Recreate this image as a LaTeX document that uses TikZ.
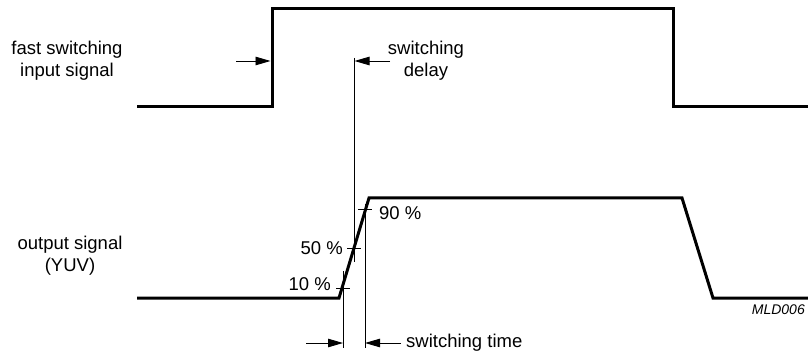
\documentclass[tikz,border=0pt]{standalone}
\usepackage{fontspec}
\setmainfont{Liberation Sans}
\usetikzlibrary{arrows.meta}
\tikzset{
  sig/.style={line width=3pt, line join=miter},
  thin/.style={line width=0.9pt},
  dimarrow/.style={line width=0.9pt, -{Triangle[length=15pt,width=8.5pt]}},
  lbl/.style={inner sep=0pt, font=\fontsize{18.5}{22}\selectfont, align=center},
  tag/.style={inner sep=0pt, font=\fontsize{14}{16}\selectfont\itshape}
}
\begin{document}
\begin{tikzpicture}[x=1pt,y=-1pt]
\useasboundingbox (0,0) rectangle (808,358);
% input signal
\coordinate (i0) at (137,107);
\coordinate (i1) at (272,107);
\coordinate (i2) at (272,9);
\coordinate (i3) at (673,9);
\coordinate (i4) at (673,107);
\coordinate (i5) at (808,107);
\draw[sig] (i0) -- (i1) -- (i2) -- (i3) -- (i4) -- (i5);
% output signal
\coordinate (o0) at (137,298);
\coordinate (o1) at (339,298);
\coordinate (o2) at (369,198);
\coordinate (o3) at (682,198);
\coordinate (o4) at (713,298);
\coordinate (o5) at (808,298);
\draw[sig] (o0) -- (o1) -- (o2) -- (o3) -- (o4) -- (o5);
% ticks
\coordinate (t10a) at (336,288); \coordinate (t10b) at (350,288);
\coordinate (t50a) at (347,248); \coordinate (t50b) at (361,248);
\coordinate (t90a) at (358,209); \coordinate (t90b) at (372,209);
\draw[thin] (t10a) -- (t10b);
\draw[thin] (t50a) -- (t50b);
\draw[thin] (t90a) -- (t90b);
% vertical reference lines
\coordinate (dTop) at (354,58); \coordinate (dBot) at (354,262);
\coordinate (aTop) at (343,271); \coordinate (aBot) at (343,348);
\coordinate (bTop) at (365,204); \coordinate (bBot) at (365,348);
\draw[thin] (dTop) -- (dBot);
\draw[thin] (aTop) -- (aBot);
\draw[thin] (bTop) -- (bBot);
% delay arrows
\coordinate (da1) at (236,61); \coordinate (da1t) at (270.5,61);
\coordinate (da2) at (390,61); \coordinate (da2t) at (354.5,61);
\draw[dimarrow] (da1) -- (da1t);
\draw[dimarrow] (da2) -- (da2t);
% switching time arrows
\coordinate (ta1) at (306,343); \coordinate (ta1t) at (343,343);
\coordinate (ta2) at (401,343); \coordinate (ta2t) at (365,343);
\draw[dimarrow] (ta1) -- (ta1t);
\draw[dimarrow] (ta2) -- (ta2t);
% labels
\node[lbl] (lin) at (67,61) {fast switching\\input signal};
\node[lbl] (lout) at (70,256) {output signal\\(YUV)};
\node[lbl] (ldel) at (426,61) {switching\\delay};
\node[lbl, anchor=west] (ltime) at (406,343) {switching time};
\node[lbl, anchor=east] (l10) at (331,284) {10 \%};
\node[lbl, anchor=east] (l50) at (343,248) {50 \%};
\node[lbl, anchor=west] (l90) at (379,213) {90 \%};
\node[tag, anchor=east] (mld) at (805,310) {MLD006};
\end{tikzpicture}
\end{document}
